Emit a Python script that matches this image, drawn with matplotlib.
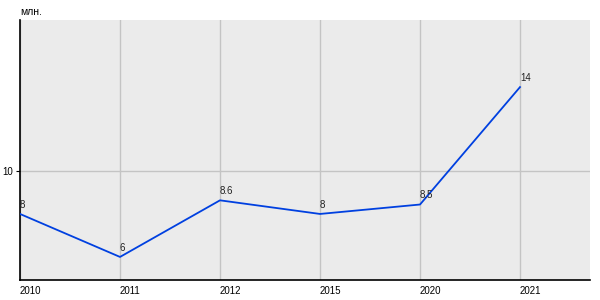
import matplotlib
matplotlib.use("Agg")
import matplotlib.pyplot as plt

plt.rcParams['font.family'] = ['Liberation Sans', 'DejaVu Sans']

years = ['2010', '2011', '2012', '2015', '2020', '2021']
values = [7.95, 5.9, 8.6, 7.95, 8.4, 14]
labels = ['8', '6', '8.6', '8', '8.5', '14']

fig = plt.figure(figsize=(6, 3), dpi=100)
ax = fig.add_axes([20/600, 20/300, 570/600, 260/300])
ax.set_facecolor('#ebebeb')

x = list(range(len(years)))
ax.plot(x, values, color='#0040e0', lw=1.3, zorder=3)
for xi, v, lab in zip(x, values, labels):
    ax.annotate(lab, (xi, v), xytext=(0, 3), textcoords='offset points',
                ha='left', va='bottom', fontsize=7, color='#222222')

ax.set_xlim(0, 5.7)
ax.set_ylim(4.8, 17.2)
ax.set_xticks(x)
ax.set_xticklabels(years, ha='left', fontsize=7)
ax.set_yticks([10])
ax.set_yticklabels(['10'], fontsize=7)
ax.tick_params(axis='x', length=0, pad=4)
ax.tick_params(axis='y', length=3, pad=2)
ax.grid(True, color='#c4c4c4', lw=1)
ax.set_axisbelow(True)
for s in ['top', 'right']:
    ax.spines[s].set_visible(False)
ax.spines['left'].set_linewidth(1.2)
ax.spines['bottom'].set_linewidth(1.2)

fig.text(20/600, 1 - 12/300, 'млн.', fontsize=7.5, ha='left', va='center')

fig.savefig('out.png', dpi=100)
